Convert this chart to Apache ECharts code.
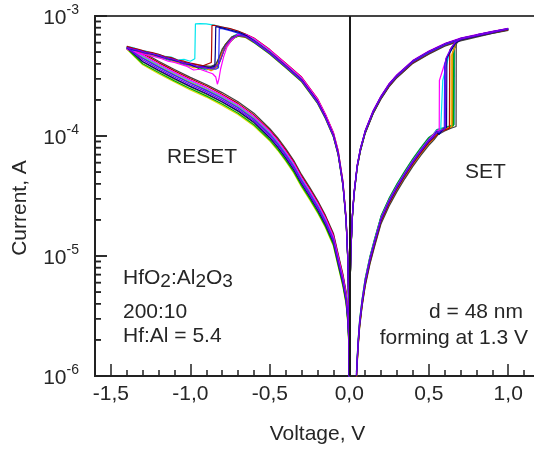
<!DOCTYPE html>
<html><head><meta charset="utf-8">
<script src="https://cdn.jsdelivr.net/npm/echarts@6.0.0/dist/echarts.min.js"></script>
<style>html,body{margin:0;padding:0;background:#fff}#c{width:534px;height:452px}</style>
</head><body><div id="c"></div>
<script>
// ---------- axis ticks ----------
const xTickValues = [-1.5, -1.0, -0.5, 0.0, 0.5, 1.0];
const yDecades = [1e-6, 1e-5, 1e-4, 1e-3];
const yMinorTicks = [2e-6,3e-6,4e-6,5e-6,6e-6,7e-6,8e-6,9e-6,
  2e-5,3e-5,4e-5,5e-5,6e-5,7e-5,8e-5,9e-5,
  2e-4,3e-4,4e-4,5e-4,6e-4,7e-4,8e-4,9e-4];

// ---------- voltage grids (V) ----------
const vPosUp = [0.045,0.055,0.065,0.08,0.1,0.13,0.16,0.2,0.25,0.3,0.35,0.4,0.45,0.5];
const vPosDn = [1.0,0.9,0.8,0.7,0.6,0.5,0.4,0.3,0.25,0.2,0.15,0.1,0.07,0.05,0.03,0.02,0.01,0.005,0.002,0.001];
const vNegUp = [-0.001,-0.002,-0.005,-0.01,-0.02,-0.04,-0.07,-0.1,-0.15,-0.2,-0.3,-0.4,-0.5,-0.6];
const vNegDn = [-1.3,-1.2,-1.1,-1.0,-0.9,-0.8,-0.7,-0.6,-0.5,-0.45,-0.4,-0.35,-0.3,-0.25,-0.2,-0.15,-0.1,-0.07,-0.04,-0.02,-0.01,-0.004,-0.001];

// ---------- currents (A), one row per cycle ----------
const posUpI = [
 [1.02e-6,1.84e-6,2.75e-6,4.08e-6,6.12e-6,9.4e-6,1.33e-5,2.04e-5,2.86e-5,3.77e-5,4.85e-5,6.12e-5,7.55e-5,9.18e-5],
 [9.8e-7,1.76e-6,2.65e-6,3.92e-6,5.88e-6,9.0e-6,1.27e-5,1.96e-5,2.74e-5,3.63e-5,4.66e-5,5.88e-5,7.25e-5,8.82e-5],
 [1.0e-6,1.8e-6,2.7e-6,4.0e-6,6.0e-6,9.2e-6,1.3e-5,2.0e-5,2.8e-5,3.7e-5,4.75e-5,6.0e-5,7.4e-5,9.0e-5],
 [1.03e-6,1.85e-6,2.78e-6,4.12e-6,6.18e-6,9.5e-6,1.34e-5,2.06e-5,2.88e-5,3.81e-5,4.89e-5,6.18e-5,7.62e-5,9.27e-5],
 [1.07e-6,1.93e-6,2.89e-6,4.28e-6,6.42e-6,9.84e-6,1.39e-5,2.14e-5,3.0e-5,3.96e-5,5.08e-5,6.42e-5,7.92e-5,9.63e-5],
 [9.6e-7,1.73e-6,2.59e-6,3.84e-6,5.76e-6,8.83e-6,1.25e-5,1.92e-5,2.69e-5,3.55e-5,4.56e-5,5.76e-5,7.1e-5,8.64e-5],
 [1.04e-6,1.87e-6,2.81e-6,4.16e-6,6.24e-6,9.57e-6,1.35e-5,2.08e-5,2.91e-5,3.85e-5,4.94e-5,6.24e-5,7.7e-5,9.36e-5],
 [1.01e-6,1.82e-6,2.73e-6,4.04e-6,6.06e-6,9.3e-6,1.31e-5,2.02e-5,2.83e-5,3.74e-5,4.8e-5,6.06e-5,7.47e-5,9.09e-5],
 [9.7e-7,1.75e-6,2.62e-6,3.88e-6,5.82e-6,8.92e-6,1.26e-5,1.94e-5,2.72e-5,3.59e-5,4.61e-5,5.82e-5,7.18e-5,8.73e-5],
 [1.08e-6,1.94e-6,2.92e-6,4.32e-6,6.48e-6,9.94e-6,1.4e-5,2.16e-5,3.02e-5,4.0e-5,5.13e-5,6.48e-5,7.99e-5,9.72e-5],
 [9.3e-7,1.67e-6,2.51e-6,3.72e-6,5.58e-6,8.56e-6,1.21e-5,1.86e-5,2.6e-5,3.44e-5,4.42e-5,5.58e-5,6.88e-5,8.37e-5],
 [9.5e-7,1.71e-6,2.57e-6,3.8e-6,5.7e-6,8.74e-6,1.24e-5,1.9e-5,2.66e-5,3.52e-5,4.51e-5,5.7e-5,7.03e-5,8.55e-5]
];
const posSwitch = [
 [[0.53,1.0e-4],[0.555,1.08e-4],[0.575,1.1e-4],[0.587,1.12e-4],[0.588,2.9e-4],[0.63,4.9e-4],[0.67,6.2e-4],[0.7,6.45e-4],[0.8,6.9e-4],[0.9,7.35e-4]],
 [[0.53,9.6e-5],[0.56,1.05e-4],[0.6,1.12e-4],[0.63,1.16e-4],[0.632,5.2e-4],[0.67,6.15e-4],[0.7,6.4e-4],[0.8,6.85e-4],[0.9,7.3e-4]],
 [[0.53,9.8e-5],[0.55,1.08e-4],[0.565,1.03e-4],[0.59,1.14e-4],[0.612,1.18e-4],[0.614,4.5e-4],[0.67,6.0e-4],[0.7,6.35e-4],[0.8,6.8e-4],[0.9,7.25e-4]],
 [[0.53,1.0e-4],[0.55,1.1e-4],[0.57,1.06e-4],[0.598,1.15e-4],[0.6,4.0e-4],[0.64,5.3e-4],[0.67,6.1e-4],[0.7,6.4e-4],[0.8,6.85e-4],[0.9,7.3e-4]],
 [[0.53,1.03e-4],[0.56,1.12e-4],[0.6,1.16e-4],[0.63,1.2e-4],[0.655,1.22e-4],[0.657,5.2e-4],[0.68,6.2e-4],[0.7,6.4e-4],[0.8,6.85e-4],[0.9,7.3e-4]],
 [[0.53,9.4e-5],[0.55,1.06e-4],[0.57,1.12e-4],[0.6,1.15e-4],[0.645,1.19e-4],[0.647,4.8e-4],[0.68,6.15e-4],[0.7,6.4e-4],[0.8,6.85e-4],[0.9,7.3e-4]],
 [[0.53,1.03e-4],[0.55,1.1e-4],[0.566,1.12e-4],[0.567,2.9e-4],[0.61,4.4e-4],[0.63,5.0e-4],[0.67,6.15e-4],[0.7,6.45e-4],[0.8,6.9e-4],[0.9,7.35e-4]],
 [[0.53,9.9e-5],[0.55,1.07e-4],[0.58,1.12e-4],[0.605,1.16e-4],[0.607,4.4e-4],[0.64,5.4e-4],[0.67,6.1e-4],[0.7,6.4e-4],[0.8,6.85e-4],[0.9,7.3e-4]],
 [[0.53,9.5e-5],[0.56,1.07e-4],[0.6,1.14e-4],[0.65,1.2e-4],[0.652,5.0e-4],[0.68,6.15e-4],[0.7,6.4e-4],[0.8,6.85e-4],[0.9,7.3e-4]],
 [[0.53,1.04e-4],[0.55,1.13e-4],[0.6,1.18e-4],[0.66,1.24e-4],[0.662,5.4e-4],[0.68,6.2e-4],[0.7,6.4e-4],[0.8,6.85e-4],[0.9,7.3e-4]],
 [[0.53,9.2e-5],[0.56,1.03e-4],[0.6,1.1e-4],[0.64,1.16e-4],[0.672,1.2e-4],[0.673,5.9e-4],[0.7,6.35e-4],[0.8,6.8e-4],[0.9,7.25e-4]],
 [[0.53,9.3e-5],[0.56,1.05e-4],[0.6,1.12e-4],[0.64,1.17e-4],[0.642,4.6e-4],[0.67,6.05e-4],[0.7,6.4e-4],[0.8,6.85e-4],[0.9,7.3e-4]]
];
const posDnI = [
 [7.8e-4,7.35e-4,6.9e-4,6.45e-4,5.8e-4,5.0e-4,4.2e-4,3.18e-4,2.68e-4,2.12e-4,1.6e-4,1.09e-4,7.8e-5,5.65e-5,3.33e-5,2.22e-5,1.11e-5,5.55e-6,2.22e-6,1.1e-6],
 [7.7e-4,7.25e-4,6.8e-4,6.35e-4,5.7e-4,4.9e-4,4.1e-4,3.12e-4,2.62e-4,2.08e-4,1.56e-4,1.07e-4,7.6e-5,5.55e-5,3.27e-5,2.18e-5,1.09e-5,5.45e-6,2.18e-6,1.09e-6],
 [7.85e-4,7.4e-4,6.95e-4,6.5e-4,5.85e-4,5.05e-4,4.23e-4,3.21e-4,2.7e-4,2.14e-4,1.61e-4,1.1e-4,7.85e-5,5.7e-5,3.37e-5,2.24e-5,1.12e-5,5.6e-6,2.24e-6,1.12e-6],
 [7.75e-4,7.3e-4,6.85e-4,6.4e-4,5.75e-4,4.95e-4,4.15e-4,3.15e-4,2.65e-4,2.1e-4,1.58e-4,1.08e-4,7.7e-5,5.6e-5,3.3e-5,2.2e-5,1.1e-5,5.5e-6,2.2e-6,1.1e-6],
 [7.65e-4,7.2e-4,6.75e-4,6.3e-4,5.65e-4,4.85e-4,4.07e-4,3.09e-4,2.6e-4,2.06e-4,1.55e-4,1.06e-4,7.55e-5,5.5e-5,3.23e-5,2.16e-5,1.08e-5,5.4e-6,2.16e-6,1.08e-6],
 [7.75e-4,7.3e-4,6.85e-4,6.4e-4,5.75e-4,4.96e-4,4.15e-4,3.15e-4,2.66e-4,2.1e-4,1.58e-4,1.08e-4,7.7e-5,5.6e-5,3.3e-5,2.2e-5,1.1e-5,5.5e-6,2.2e-6,1.1e-6],
 [7.9e-4,7.45e-4,7.0e-4,6.55e-4,5.9e-4,5.1e-4,4.27e-4,3.24e-4,2.73e-4,2.16e-4,1.63e-4,1.11e-4,7.9e-5,5.75e-5,3.4e-5,2.27e-5,1.13e-5,5.65e-6,2.27e-6,1.13e-6],
 [7.85e-4,7.4e-4,6.95e-4,6.5e-4,5.85e-4,5.05e-4,4.23e-4,3.21e-4,2.7e-4,2.14e-4,1.61e-4,1.1e-4,7.85e-5,5.7e-5,3.37e-5,2.24e-5,1.12e-5,5.6e-6,2.24e-6,1.12e-6],
 [7.65e-4,7.2e-4,6.75e-4,6.3e-4,5.65e-4,4.85e-4,4.07e-4,3.09e-4,2.6e-4,2.06e-4,1.55e-4,1.06e-4,7.55e-5,5.5e-5,3.23e-5,2.16e-5,1.08e-5,5.4e-6,2.16e-6,1.08e-6],
 [7.7e-4,7.25e-4,6.8e-4,6.35e-4,5.7e-4,4.9e-4,4.1e-4,3.12e-4,2.62e-4,2.08e-4,1.56e-4,1.07e-4,7.6e-5,5.55e-5,3.27e-5,2.18e-5,1.09e-5,5.45e-6,2.18e-6,1.09e-6],
 [7.6e-4,7.15e-4,6.65e-4,6.2e-4,5.6e-4,4.8e-4,4.03e-4,3.06e-4,2.57e-4,2.04e-4,1.53e-4,1.05e-4,7.45e-5,5.45e-5,3.2e-5,2.13e-5,1.07e-5,5.35e-6,2.13e-6,1.07e-6],
 [7.8e-4,7.35e-4,6.9e-4,6.45e-4,5.8e-4,5.0e-4,4.2e-4,3.18e-4,2.68e-4,2.12e-4,1.6e-4,1.09e-4,7.8e-5,5.65e-5,3.33e-5,2.22e-5,1.11e-5,5.55e-6,2.22e-6,1.1e-6]
];
const negUpI = [
 [1.03e-6,2.1e-6,5.2e-6,1.03e-5,2.06e-5,4.1e-5,7.4e-5,1.05e-4,1.49e-4,2.0e-4,3.04e-4,3.97e-4,5.15e-4,6.4e-4],
 [1.05e-6,2.1e-6,5.3e-6,1.05e-5,2.1e-5,4.2e-5,7.6e-5,1.07e-4,1.52e-4,2.05e-4,3.1e-4,4.04e-4,5.25e-4,6.55e-4],
 [1.0e-6,2.0e-6,5.0e-6,1.0e-5,2.0e-5,4.0e-5,7.2e-5,1.02e-4,1.45e-4,1.95e-4,2.95e-4,3.85e-4,5.0e-4,6.25e-4],
 [9.8e-7,2.0e-6,4.9e-6,9.8e-6,1.96e-5,3.9e-5,7.1e-5,1.0e-4,1.42e-4,1.91e-4,2.89e-4,3.77e-4,4.9e-4,6.1e-4],
 [9.7e-7,1.9e-6,4.8e-6,9.7e-6,1.94e-5,3.9e-5,7.0e-5,9.9e-5,1.41e-4,1.89e-4,2.86e-4,3.73e-4,4.85e-4,6.05e-4],
 [1.01e-6,2.0e-6,5.1e-6,1.01e-5,2.02e-5,4.05e-5,7.3e-5,1.03e-4,1.46e-4,1.97e-4,2.98e-4,3.9e-4,5.05e-4,6.3e-4],
 [1.04e-6,2.1e-6,5.2e-6,1.04e-5,2.08e-5,4.15e-5,7.5e-5,1.06e-4,1.51e-4,2.03e-4,3.07e-4,4.0e-4,5.2e-4,6.5e-4],
 [9.9e-7,2.0e-6,4.95e-6,9.9e-6,1.98e-5,3.96e-5,7.1e-5,1.01e-4,1.44e-4,1.93e-4,2.92e-4,3.81e-4,4.95e-4,6.2e-4],
 [9.6e-7,1.9e-6,4.8e-6,9.6e-6,1.92e-5,3.84e-5,6.9e-5,9.8e-5,1.39e-4,1.87e-4,2.83e-4,3.7e-4,4.8e-4,6.0e-4],
 [1.02e-6,2.0e-6,5.1e-6,1.02e-5,2.04e-5,4.08e-5,7.35e-5,1.04e-4,1.48e-4,1.99e-4,3.01e-4,3.93e-4,5.1e-4,6.35e-4],
 [9.8e-7,2.0e-6,4.9e-6,9.8e-6,1.96e-5,3.92e-5,7.05e-5,1.0e-4,1.42e-4,1.91e-4,2.9e-4,3.78e-4,4.9e-4,6.12e-4],
 [1.0e-6,2.0e-6,5.0e-6,1.0e-5,2.0e-5,4.0e-5,7.2e-5,1.02e-4,1.45e-4,1.96e-4,2.96e-4,3.86e-4,5.02e-4,6.27e-4]
];
const negSwitch = [
 [[-0.65,7.0e-4],[-0.7,7.45e-4],[-0.75,7.8e-4],[-0.8,8.1e-4],[-0.85,8.4e-4],[-0.9,8.6e-4],[-0.94,8.65e-4],[-0.968,8.6e-4],[-0.97,6.2e-4],[-0.972,4.4e-4],[-1.0,4.2e-4],[-1.04,4.35e-4],[-1.08,4.3e-4],[-1.12,4.55e-4],[-1.16,4.6e-4],[-1.2,4.8e-4],[-1.24,4.9e-4],[-1.28,5.1e-4],[-1.32,5.2e-4],[-1.36,5.45e-4],[-1.4,5.55e-4]],
 [[-0.65,7.05e-4],[-0.7,7.5e-4],[-0.75,7.85e-4],[-0.8,8.1e-4],[-0.85,8.35e-4],[-0.864,8.35e-4],[-0.866,5.5e-4],[-0.868,4.1e-4],[-0.88,3.95e-4],[-0.92,3.85e-4],[-0.96,3.95e-4],[-1.0,4.05e-4],[-1.04,4.2e-4],[-1.08,4.3e-4],[-1.12,4.5e-4],[-1.16,4.6e-4],[-1.2,4.8e-4],[-1.24,4.95e-4],[-1.28,5.05e-4],[-1.32,5.25e-4],[-1.36,5.4e-4],[-1.4,5.6e-4]],
 [[-0.65,6.9e-4],[-0.7,7.35e-4],[-0.75,7.65e-4],[-0.8,7.95e-4],[-0.84,8.15e-4],[-0.843,5.0e-4],[-0.846,3.8e-4],[-0.88,3.7e-4],[-0.92,3.8e-4],[-0.96,3.75e-4],[-1.0,3.95e-4],[-1.04,4.05e-4],[-1.08,4.2e-4],[-1.12,4.35e-4],[-1.16,4.5e-4],[-1.2,4.65e-4],[-1.24,4.8e-4],[-1.28,4.95e-4],[-1.32,5.15e-4],[-1.36,5.25e-4],[-1.4,5.45e-4]],
 [[-0.65,6.75e-4],[-0.7,7.2e-4],[-0.75,7.55e-4],[-0.8,7.85e-4],[-0.818,7.9e-4],[-0.82,5.2e-4],[-0.823,3.7e-4],[-0.84,3.6e-4],[-0.88,3.65e-4],[-0.92,3.7e-4],[-0.96,3.8e-4],[-1.0,3.9e-4],[-1.04,4.0e-4],[-1.08,4.2e-4],[-1.12,4.3e-4],[-1.16,4.45e-4],[-1.2,4.6e-4],[-1.24,4.8e-4],[-1.28,4.9e-4],[-1.32,5.1e-4],[-1.36,5.2e-4],[-1.4,5.4e-4]],
 [[-0.65,6.8e-4],[-0.68,6.95e-4],[-0.72,6.6e-4],[-0.76,5.9e-4],[-0.79,5.1e-4],[-0.81,4.3e-4],[-0.83,3.75e-4],[-0.86,3.6e-4],[-0.9,3.7e-4],[-0.94,3.6e-4],[-0.98,3.85e-4],[-1.02,3.95e-4],[-1.06,4.05e-4],[-1.1,4.25e-4],[-1.14,4.35e-4],[-1.18,4.55e-4],[-1.22,4.7e-4],[-1.26,4.85e-4],[-1.3,5.0e-4],[-1.34,5.15e-4],[-1.38,5.3e-4],[-1.4,5.35e-4]],
 [[-0.65,6.9e-4],[-0.69,7.0e-4],[-0.73,6.5e-4],[-0.77,5.7e-4],[-0.8,4.9e-4],[-0.82,4.2e-4],[-0.84,3.65e-4],[-0.87,3.5e-4],[-0.9,3.65e-4],[-0.94,3.75e-4],[-0.98,3.7e-4],[-1.02,3.9e-4],[-1.06,4.1e-4],[-1.1,4.15e-4],[-1.14,4.4e-4],[-1.18,4.5e-4],[-1.22,4.65e-4],[-1.26,4.8e-4],[-1.3,4.95e-4],[-1.34,5.1e-4],[-1.38,5.25e-4],[-1.4,5.3e-4]],
 [[-0.65,7.0e-4],[-0.7,7.05e-4],[-0.74,6.3e-4],[-0.77,5.5e-4],[-0.79,4.6e-4],[-0.81,3.6e-4],[-0.82,3.0e-4],[-0.83,2.7e-4],[-0.84,3.1e-4],[-0.86,3.3e-4],[-0.9,3.45e-4],[-0.94,3.6e-4],[-0.98,3.55e-4],[-1.02,3.8e-4],[-1.06,3.95e-4],[-1.1,4.1e-4],[-1.14,4.2e-4],[-1.18,4.4e-4],[-1.22,4.55e-4],[-1.26,4.7e-4],[-1.3,4.85e-4],[-1.34,5.0e-4],[-1.38,5.2e-4],[-1.4,5.3e-4]],
 [[-0.65,6.75e-4],[-0.7,6.9e-4],[-0.74,6.5e-4],[-0.78,5.6e-4],[-0.8,4.7e-4],[-0.82,4.0e-4],[-0.85,3.7e-4],[-0.88,3.65e-4],[-0.92,3.75e-4],[-0.96,3.8e-4],[-1.0,4.0e-4],[-1.04,4.05e-4],[-1.08,4.25e-4],[-1.12,4.4e-4],[-1.16,4.5e-4],[-1.2,4.7e-4],[-1.24,4.85e-4],[-1.28,4.95e-4],[-1.32,5.15e-4],[-1.36,5.3e-4],[-1.4,5.45e-4]],
 [[-0.65,6.6e-4],[-0.7,6.8e-4],[-0.75,6.4e-4],[-0.78,5.8e-4],[-0.8,5.1e-4],[-0.82,4.4e-4],[-0.84,3.9e-4],[-0.87,3.75e-4],[-0.9,3.8e-4],[-0.94,3.7e-4],[-0.98,3.9e-4],[-1.02,4.0e-4],[-1.06,4.15e-4],[-1.1,4.3e-4],[-1.14,4.45e-4],[-1.18,4.6e-4],[-1.22,4.75e-4],[-1.26,4.9e-4],[-1.3,5.05e-4],[-1.34,5.2e-4],[-1.38,5.35e-4],[-1.4,5.4e-4]],
 [[-0.65,6.95e-4],[-0.7,7.1e-4],[-0.73,6.8e-4],[-0.76,6.0e-4],[-0.79,5.2e-4],[-0.81,4.4e-4],[-0.83,3.85e-4],[-0.86,3.7e-4],[-0.9,3.55e-4],[-0.94,3.7e-4],[-0.98,3.8e-4],[-1.02,3.85e-4],[-1.06,4.05e-4],[-1.1,4.2e-4],[-1.14,4.3e-4],[-1.18,4.5e-4],[-1.22,4.6e-4],[-1.26,4.8e-4],[-1.3,4.9e-4],[-1.34,5.1e-4],[-1.38,5.25e-4],[-1.4,5.35e-4]],
 [[-0.65,6.7e-4],[-0.7,6.95e-4],[-0.74,6.7e-4],[-0.77,6.0e-4],[-0.8,5.3e-4],[-0.82,4.5e-4],[-0.84,3.95e-4],[-0.87,3.8e-4],[-0.91,3.85e-4],[-0.95,3.9e-4],[-0.99,4.0e-4],[-1.03,4.1e-4],[-1.07,4.2e-4],[-1.11,4.4e-4],[-1.15,4.5e-4],[-1.19,4.7e-4],[-1.23,4.8e-4],[-1.27,5.0e-4],[-1.31,5.1e-4],[-1.35,5.3e-4],[-1.4,5.5e-4]],
 [[-0.65,6.85e-4],[-0.7,7.0e-4],[-0.74,6.6e-4],[-0.78,5.8e-4],[-0.81,4.8e-4],[-0.83,4.0e-4],[-0.85,3.65e-4],[-0.88,3.6e-4],[-0.92,3.7e-4],[-0.96,3.75e-4],[-1.0,3.85e-4],[-1.04,4.0e-4],[-1.08,4.1e-4],[-1.12,4.3e-4],[-1.16,4.45e-4],[-1.2,4.6e-4],[-1.24,4.75e-4],[-1.28,4.9e-4],[-1.32,5.05e-4],[-1.36,5.2e-4],[-1.4,5.3e-4]]
];
const negDnI = [
 [4.63e-4,3.9e-4,3.33e-4,2.86e-4,2.5e-4,2.13e-4,1.79e-4,1.44e-4,1.07e-4,8.94e-5,7.28e-5,5.82e-5,4.42e-5,3.48e-5,2.7e-5,2.03e-5,1.44e-5,9.67e-6,6.55e-6,4.68e-6,3.33e-6,2.29e-6,8.3e-7],
 [4.85e-4,4.09e-4,3.49e-4,3.0e-4,2.62e-4,2.23e-4,1.87e-4,1.5e-4,1.12e-4,9.37e-5,7.63e-5,6.1e-5,4.63e-5,3.65e-5,2.83e-5,2.13e-5,1.5e-5,1.01e-5,6.87e-6,4.9e-6,3.49e-6,2.4e-6,8.7e-7],
 [4.18e-4,3.53e-4,3.01e-4,2.59e-4,2.26e-4,1.93e-4,1.62e-4,1.3e-4,9.68e-5,8.08e-5,6.58e-5,5.26e-5,4.0e-5,3.15e-5,2.44e-5,1.83e-5,1.3e-5,8.74e-6,5.92e-6,4.23e-6,3.0e-6,2.07e-6,7.5e-7],
 [4.45e-4,3.75e-4,3.2e-4,2.75e-4,2.4e-4,2.05e-4,1.72e-4,1.38e-4,1.03e-4,8.6e-5,7.0e-5,5.6e-5,4.25e-5,3.35e-5,2.6e-5,1.95e-5,1.38e-5,9.3e-6,6.3e-6,4.5e-6,3.2e-6,2.2e-6,8.0e-7],
 [4.0e-4,3.38e-4,2.88e-4,2.48e-4,2.16e-4,1.85e-4,1.55e-4,1.24e-4,9.27e-5,7.74e-5,6.3e-5,5.04e-5,3.83e-5,3.02e-5,2.34e-5,1.76e-5,1.24e-5,8.37e-6,5.67e-6,4.05e-6,2.88e-6,1.98e-6,7.2e-7],
 [4.54e-4,3.83e-4,3.26e-4,2.8e-4,2.45e-4,2.09e-4,1.75e-4,1.41e-4,1.05e-4,8.77e-5,7.14e-5,5.71e-5,4.34e-5,3.42e-5,2.65e-5,1.99e-5,1.41e-5,9.49e-6,6.43e-6,4.59e-6,3.26e-6,2.24e-6,8.2e-7],
 [4.72e-4,3.98e-4,3.39e-4,2.92e-4,2.54e-4,2.17e-4,1.82e-4,1.46e-4,1.09e-4,9.12e-5,7.42e-5,5.94e-5,4.51e-5,3.55e-5,2.76e-5,2.07e-5,1.46e-5,9.86e-6,6.68e-6,4.77e-6,3.39e-6,2.33e-6,8.5e-7],
 [4.32e-4,3.64e-4,3.1e-4,2.67e-4,2.33e-4,1.99e-4,1.67e-4,1.34e-4,9.99e-5,8.34e-5,6.79e-5,5.43e-5,4.12e-5,3.25e-5,2.52e-5,1.89e-5,1.34e-5,9.02e-6,6.11e-6,4.37e-6,3.1e-6,2.13e-6,7.8e-7],
 [4.14e-4,3.49e-4,2.98e-4,2.56e-4,2.23e-4,1.91e-4,1.6e-4,1.28e-4,9.58e-5,8.0e-5,6.51e-5,5.21e-5,3.95e-5,3.12e-5,2.42e-5,1.81e-5,1.28e-5,8.65e-6,5.86e-6,4.19e-6,2.98e-6,2.05e-6,7.4e-7],
 [4.49e-4,3.79e-4,3.23e-4,2.78e-4,2.42e-4,2.07e-4,1.74e-4,1.39e-4,1.04e-4,8.69e-5,7.07e-5,5.66e-5,4.29e-5,3.38e-5,2.63e-5,1.97e-5,1.39e-5,9.39e-6,6.36e-6,4.55e-6,3.23e-6,2.22e-6,8.1e-7],
 [4.98e-4,4.2e-4,3.58e-4,3.08e-4,2.69e-4,2.3e-4,1.93e-4,1.55e-4,1.15e-4,9.63e-5,7.84e-5,6.27e-5,4.76e-5,3.75e-5,2.91e-5,2.18e-5,1.55e-5,1.04e-5,7.06e-6,5.04e-6,3.58e-6,2.46e-6,9.0e-7],
 [3.92e-4,3.3e-4,2.82e-4,2.42e-4,2.11e-4,1.8e-4,1.51e-4,1.21e-4,9.06e-5,7.57e-5,6.16e-5,4.93e-5,3.74e-5,2.95e-5,2.29e-5,1.72e-5,1.21e-5,8.18e-6,5.54e-6,3.96e-6,2.82e-6,1.94e-6,7.0e-7]
];
const cycleColors = ['#00e5ee','#b00000','#00008b','#2a2aff','#00a800','#ff8c00','#ff00ff','#7a00e6','#7f7f00','#009a9a','#404040','#e0e000'];
const drawOrder = [11,8,9,4,5,10,0,1,6,3,2,7];

// ---------- build ----------
const FONT = '"Liberation Sans", Arial, sans-serif';
const TXT = '#262626';
const AX = '#222';
function cycleData(k) {
  const d = [];
  vPosUp.forEach((v, i) => d.push([v, posUpI[k][i]]));
  posSwitch[k].forEach(p => d.push(p));
  vPosDn.forEach((v, i) => d.push([v, posDnI[k][i]]));
  vNegUp.forEach((v, i) => d.push([v, negUpI[k][i]]));
  negSwitch[k].forEach(p => d.push(p));
  vNegDn.forEach((v, i) => d.push([v, negDnI[k][i]]));
  return d;
}
const series = drawOrder.map(k => ({
  type: 'line', data: cycleData(k), symbol: 'none', clip: true,
  lineStyle: { color: cycleColors[k], width: 1.2 }, silent: true, z: 2
}));
series.push({
  type: 'line', data: [], z: 6, silent: true,
  markLine: { silent: true, symbol: ['none', 'none'], label: { show: false },
    lineStyle: { color: '#1a1a1a', width: 2, type: 'solid' }, data: [{ xAxis: 0 }] }
});

const chart = echarts.init(document.getElementById('c'), null, { renderer: 'canvas' });
chart.setOption({
  animation: false,
  backgroundColor: '#fff',
  grid: { left: 95, right: -6, top: 16, bottom: 76, outerBoundsMode: 'none', containLabel: false,
    show: true, borderColor: '#444', borderWidth: 2, backgroundColor: 'transparent' },
  xAxis: {
    type: 'value', min: -1.6, max: 1.2, splitNumber: 5,
    name: 'Voltage, V', nameLocation: 'middle', nameGap: 48,
    nameTextStyle: { fontFamily: FONT, fontSize: 21, color: TXT },
    axisLine: { show: true, onZero: false, lineStyle: { color: AX, width: 2 } },
    axisTick: { show: true, inside: true, length: 12, lineStyle: { color: AX, width: 1.5 } },
    minorTick: { show: true, splitNumber: 5, length: 6, lineStyle: { color: AX, width: 1.5 } },
    splitLine: { show: false },
    axisLabel: { margin: 8, fontFamily: FONT, fontSize: 21, color: TXT, showMinLabel: false, showMaxLabel: false,
      formatter: v => xTickValues.some(t => Math.abs(t - v) < 1e-9) ? v.toFixed(1).replace('.', ',') : '' }
  },
  yAxis: {
    type: 'log', logBase: 10, min: yDecades[0], max: yDecades[yDecades.length - 1],
    axisLine: { show: true, onZero: false, lineStyle: { color: AX, width: 2 } },
    axisTick: { show: true, inside: true, length: 12, lineStyle: { color: AX, width: 1.5 } },
    minorTick: { show: false },
    splitLine: { show: false },
    axisLabel: {
      margin: 16,
      formatter: v => '{b|10}{s|' + Math.round(Math.log10(v)) + '}',
      rich: {
        b: { fontFamily: FONT, fontSize: 21, color: TXT, padding: [4, 0, 0, 0], verticalAlign: 'bottom' },
        s: { fontFamily: FONT, fontSize: 14, color: TXT, verticalAlign: 'top' }
      }
    }
  },
  series: series
});

// ---------- y minor/major ticks (positions from the axis scale) ----------
const xLeftPx = chart.convertToPixel({ xAxisIndex: 0 }, -1.6);
const xMinorEnd = chart.convertFromPixel({ xAxisIndex: 0 }, xLeftPx + 6);
const xMajorEnd = chart.convertFromPixel({ xAxisIndex: 0 }, xLeftPx + 12);
const tickSeries = [];
yMinorTicks.forEach(v => tickSeries.push({ type: 'line', data: [[-1.6, v], [xMinorEnd, v]], symbol: 'none', clip: false, silent: true, z: 8,
  lineStyle: { color: AX, width: 1.5 } }));
yDecades.forEach(v => tickSeries.push({ type: 'line', data: [[-1.6, v], [xMajorEnd, v]], symbol: 'none', clip: false, silent: true, z: 8,
  lineStyle: { color: AX, width: 1.5 } }));

const tickEls = [];
yMinorTicks.forEach(v => {
  const y = chart.convertToPixel({ yAxisIndex: 0 }, v);
  tickEls.push({ type: 'line', z: 50, shape: { x1: xLeftPx, y1: y, x2: xLeftPx + 6, y2: y }, style: { stroke: AX, lineWidth: 1.5 } });
});
const textEls = [
  { type: 'text', x: 20, y: 208, rotation: Math.PI / 2,
    style: { text: 'Current, A', font: '21px ' + FONT, fill: TXT, align: 'center', verticalAlign: 'middle' } },
  { type: 'text', x: 167, y: 157, style: { text: 'RESET', font: '21px ' + FONT, fill: TXT, align: 'left', verticalAlign: 'middle' } },
  { type: 'text', x: 465, y: 172, style: { text: 'SET', font: '21px ' + FONT, fill: TXT, align: 'left', verticalAlign: 'middle' } },
  { type: 'text', x: 123, y: 267.5, style: {
      text: '{n|HfO}{u|2}{n|:Al}{u|2}{n|O}{u|3}', align: 'left', verticalAlign: 'top',
      rich: { n: { fontFamily: FONT, fontSize: 21, lineHeight: 24, fill: TXT, color: TXT, verticalAlign: 'top' },
              u: { fontFamily: FONT, fontSize: 19, lineHeight: 20, fill: TXT, color: TXT, padding: [9, 0, 0, 0], verticalAlign: 'bottom' } } } },
  { type: 'text', x: 123, y: 312.5, style: { text: '200:10', font: '21px ' + FONT, fill: TXT, align: 'left', verticalAlign: 'middle' } },
  { type: 'text', x: 123, y: 336, style: { text: 'Hf:Al = 5.4', font: '21px ' + FONT, fill: TXT, align: 'left', verticalAlign: 'middle' } },
  { type: 'text', x: 523, y: 312.5, style: { text: 'd = 48 nm', font: '21px ' + FONT, fill: TXT, align: 'right', verticalAlign: 'middle' } },
  { type: 'text', x: 528, y: 338, style: { text: 'forming at 1.3 V', font: '21px ' + FONT, fill: TXT, align: 'right', verticalAlign: 'middle' } }
];
chart.setOption({ series: series.concat(tickSeries), graphic: tickEls.concat(textEls) });
</script>
</body></html>
